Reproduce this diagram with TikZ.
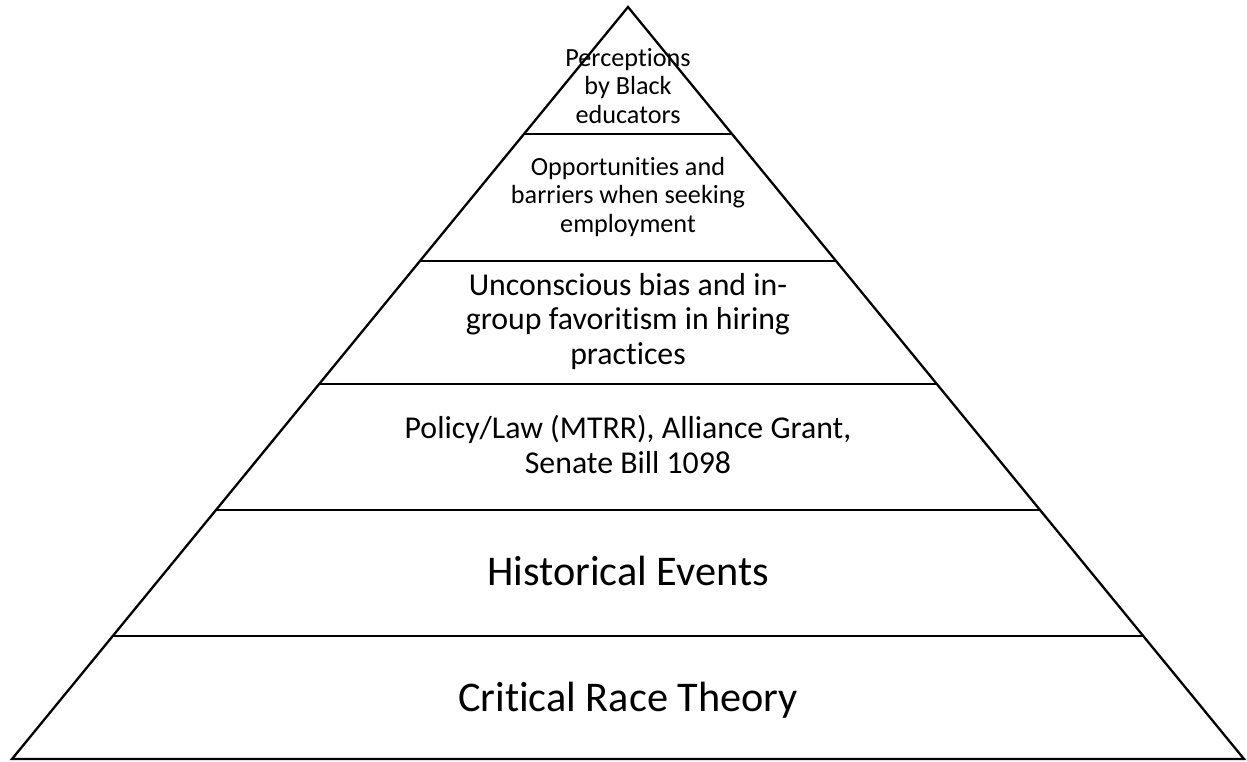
\documentclass[tikz,border=0pt]{standalone}
\usepackage{fontspec}
\setmainfont[Ligatures=NoCommon]{Carlito}
\begin{document}
\begin{tikzpicture}[x=1pt,y=-1pt,
  edge/.style={line width=2.3pt,line join=miter},
  tier/.style={anchor=base,align=center,inner sep=0pt,text=black},
  small/.style={tier,font=\fontsize{26.2}{28.5}\selectfont},
  medium/.style={tier,font=\fontsize{31.8}{34.5}\selectfont},
  large/.style={tier,font=\fontsize{42.3}{50}\selectfont}]
\useasboundingbox (0,0) rectangle (1247,761);
% pyramid outline
\coordinate (apex) at (628,7);
\coordinate (bl) at (12,759);
\coordinate (br) at (1244,759);
\draw[edge] (bl) -- (apex) -- (br) -- cycle;
% tier dividers, ending on the sloping sides
\coordinate (La) at (523.97,134);  \coordinate (Ra) at (732.03,134);
\coordinate (Lb) at (419.93,261);  \coordinate (Rb) at (836.07,261);
\coordinate (Lc) at (319.18,384);  \coordinate (Rc) at (936.82,384);
\coordinate (Ld) at (215.97,510);  \coordinate (Rd) at (1040.03,510);
\coordinate (Le) at (112.75,636);  \coordinate (Re) at (1143.25,636);
\draw[edge] (La) -- (Ra);
\draw[edge] (Lb) -- (Rb);
\draw[edge] (Lc) -- (Rc);
\draw[edge] (Ld) -- (Rd);
\draw[edge] (Le) -- (Re);
% tier labels (anchored on the baseline of their last line)
\node[small] (t1) at (628,123) {Perceptions\\by Black\\educators};
\node[small] (t2) at (628,232) {Opportunities and\\barriers when seeking\\employment};
\node[medium] (t3) at (628,364) {Unconscious bias and in-\\group favoritism in hiring\\practices};
\node[medium] (t4) at (628,473) {Policy/Law (MTRR), Alliance Grant,\\Senate Bill 1098};
\node[large] (t5) at (628,585) {Historical Events};
\node[large] (t6) at (628,711) {Critical Race Theory};
\end{tikzpicture}
\end{document}
